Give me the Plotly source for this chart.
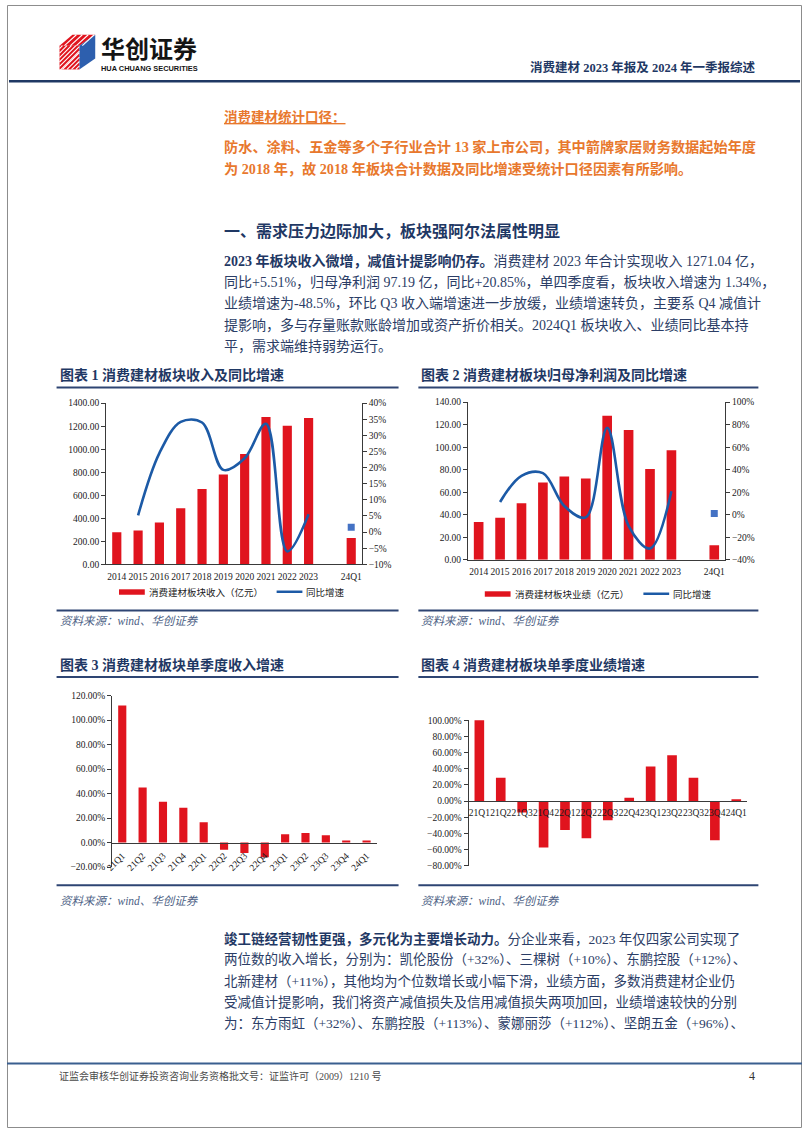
import plotly.graph_objects as go

W, H = 802, 1133


def px(x):
    return x / W


def py(y):
    return 1 - y / H


# ---------------- data ----------------
years = ["2014", "2015", "2016", "2017", "2018", "2019", "2020", "2021", "2022", "2023"]
gap_label = " "
q1_label = "24Q1"
cats_annual = years + [gap_label, q1_label]

revenue = [278, 293, 364, 488, 654, 780, 958, 1280, 1204, 1271.04]
revenue_24q1 = 229
revenue_yoy = [None, 5.2, 24.5, 34.2, 34.0, 19.3, 22.9, 33.6, -6.0, 5.51]
revenue_yoy_24q1 = 1.5

profit = [33.5, 37.3, 50.2, 68.7, 74.0, 72.2, 128.0, 115.3, 80.7, 97.19]
profit_24q1 = 12.9
profit_yoy = [None, 11.3, 34.6, 36.9, 7.7, -2.4, 77.3, -9.9, -30.0, 20.85]
profit_yoy_24q1 = 1.0

quarters = ["21Q1", "21Q2", "21Q3", "21Q4", "22Q1", "22Q2", "22Q3", "22Q4",
            "23Q1", "23Q2", "23Q3", "23Q4", "24Q1"]
q_rev_growth = [111.9, 45.0, 33.2, 28.3, 16.5, -5.9, -8.6, -12.1, 6.7, 7.8, 5.9, 1.34, 1.5]
q_profit_growth = [100.5, 29.0, -14.3, -57.6, -35.9, -46.1, -23.7, 4.1, 42.9, 56.7, 29.0, -48.5, 2.0]

# ---------------- styles ----------------
RED = "#e0141e"
BLUE = "#1c5aa6"
MARK = "#4472c4"
NAVY = "#1f3864"
BODY = "#2b3d66"
ORANGE = "#e8782d"
AXIS = "#3a3a3a"
LINEC = "#2e4573"
CJK = "Noto Sans CJK SC"
MIX = "Liberation Serif, Noto Sans CJK SC"
TICKFONT = dict(family="Liberation Serif", size=9.5, color="#1a1a1a")

fig = go.Figure()

# chart 1
fig.add_trace(go.Bar(x=years + [q1_label], y=revenue + [revenue_24q1], xaxis="x", yaxis="y",
                     marker=dict(color=RED, line=dict(width=0)), width=0.43))
fig.add_trace(go.Scatter(x=years, y=revenue_yoy, xaxis="x", yaxis="y2", mode="lines",
                         line=dict(color=BLUE, width=2.6, shape="spline", smoothing=1.0)))
fig.add_trace(go.Scatter(x=[q1_label], y=[revenue_yoy_24q1], xaxis="x", yaxis="y2", mode="markers",
                         marker=dict(symbol="square", size=7, color=MARK)))
# chart 2
fig.add_trace(go.Bar(x=years + [q1_label], y=profit + [profit_24q1], xaxis="x2", yaxis="y3",
                     marker=dict(color=RED, line=dict(width=0)), width=0.45))
fig.add_trace(go.Scatter(x=years, y=profit_yoy, xaxis="x2", yaxis="y4", mode="lines",
                         line=dict(color=BLUE, width=2.6, shape="spline", smoothing=1.0)))
fig.add_trace(go.Scatter(x=[q1_label], y=[profit_yoy_24q1], xaxis="x2", yaxis="y4", mode="markers",
                         marker=dict(symbol="square", size=7, color=MARK)))
# chart 3
fig.add_trace(go.Bar(x=quarters, y=q_rev_growth, xaxis="x3", yaxis="y5",
                     marker=dict(color=RED, line=dict(width=0)), width=0.4))
# chart 4
fig.add_trace(go.Bar(x=quarters, y=q_profit_growth, xaxis="x4", yaxis="y6",
                     marker=dict(color=RED, line=dict(width=0)), width=0.45))


def yax(dom, rng, dtick, fmt, suffix="", anchor="x", side="left", overlaying=None):
    d = dict(range=rng, dtick=dtick, tick0=rng[0], tickformat=fmt, ticksuffix=suffix,
             showline=True, linecolor=AXIS, linewidth=1, ticks="outside", ticklen=4,
             tickcolor=AXIS, tickfont=TICKFONT, showgrid=False, zeroline=False,
             anchor=anchor, side=side)
    if overlaying:
        d["overlaying"] = overlaying
    else:
        d["domain"] = dom
    return d


def xax(dom, cats, anchor, rng, angle=0, position=None):
    d = dict(domain=dom, type="category", categoryorder="array", categoryarray=cats,
             range=rng, showline=True, linecolor=AXIS, linewidth=1, ticks="outside",
             ticklen=3, tickcolor="rgba(0,0,0,0)", tickangle=angle, tickfont=TICKFONT,
             showgrid=False, zeroline=False, anchor=anchor)
    if position is not None:
        d["position"] = position
    return d


c1y = [py(564.3), py(401.7)]
c2y = [py(559.7), py(400.7)]
c3y = [py(869.7), py(696.7)]
c4y = [py(868.3), py(721.7)]
r3 = [-20, 120]
r4 = [-80, 100]
zero3 = c3y[0] + (0 - r3[0]) / (r3[1] - r3[0]) * (c3y[1] - c3y[0])
zero4 = c4y[0] + (0 - r4[0]) / (r4[1] - r4[0]) * (c4y[1] - c4y[0])

layout_axes = dict(
    xaxis=xax([px(100), px(358)], cats_annual, "y", [-0.5, 11.5]),
    yaxis=yax(c1y, [0, 1400], 200, ".2f", anchor="x"),
    yaxis2=yax(None, [-10, 40], 5, "d", "%", anchor="x", side="right", overlaying="y"),
    xaxis2=xax([px(465), px(724.3)], cats_annual, "y3", [-0.5, 11.5]),
    yaxis3=yax(c2y, [0, 140], 20, ".2f", anchor="x2"),
    yaxis4=yax(None, [-40, 100], 20, "d", "%", anchor="x2", side="right", overlaying="y3"),
    xaxis3=xax([px(106), px(373)], quarters, "free", [-0.5, 12.5], angle=-45, position=zero3),
    yaxis5=yax(c3y, r3, 20, ".2f", "%", anchor="x3"),
    xaxis4=xax([px(465.7), px(746.5)], quarters, "free", [-0.5, 12.5], angle=0, position=zero4),
    yaxis6=yax(c4y, r4, 20, ".2f", "%", anchor="x4"),
)

# ---------------- page decoration ----------------
shapes = []
annotations = []


def sline(x0, y0, x1, y1, color, width):
    shapes.append(dict(type="line", xref="paper", yref="paper", x0=px(x0), y0=py(y0),
                       x1=px(x1), y1=py(y1), line=dict(color=color, width=width)))


def srect(x0, y0, x1, y1, fill, lc=None, lw=0):
    shapes.append(dict(type="rect", xref="paper", yref="paper", x0=px(x0), y0=py(y0),
                       x1=px(x1), y1=py(y1), fillcolor=fill,
                       line=dict(color=lc or fill, width=lw)))


def spath(points, fill):
    p = "M " + " L ".join(f"{px(a):.5f},{py(b):.5f}" for a, b in points) + " Z"
    shapes.append(dict(type="path", xref="paper", yref="paper", path=p, fillcolor=fill,
                       line=dict(width=0)))


def note(x, y, text, size, color, family=MIX, xanchor="left"):
    annotations.append(dict(xref="paper", yref="paper", x=px(x), y=py(y), text=text,
                            showarrow=False, xanchor=xanchor, yanchor="middle", align="left",
                            font=dict(family=family, size=size, color=color)))


# page frame
shapes.append(dict(type="rect", xref="paper", yref="paper", x0=px(0.5), y0=py(0.5),
                   x1=px(801.5), y1=py(1132.5), line=dict(color="#8c8c8c", width=1)))

# logo
spath([(53, 41), (66, 30), (89, 30), (73, 41)], RED)      # top face
spath([(53, 41), (73, 41), (73, 65), (53, 65)], RED)      # front face
spath([(73, 41), (89, 30), (89, 54), (73, 65)], "#2d5fae")  # side face
for k in range(6):
    y0 = 44 + k * 4.5
    x1 = min(73, 53 + (y0 - 41))
    sline(53, y0, x1, y0 - (x1 - 53), "white", 1.1)
for k in range(4):
    x0 = 56 + k * 4.5
    sline(x0, 65, 73, 65 - (73 - x0), "white", 1.1)
for k in range(4):
    xa = 58 + k * 6
    sline(xa, 41, xa + 12, 30, "white", 1.1)
note(93, 43, "<b>华创证券</b>", 24, "#141414", family=CJK)
note(93, 64.5, "<b>HUA CHUANG SECURITIES</b>", 7.4, "#141414", family="Liberation Sans")
note(758, 63, "<b>消费建材 2023 年报及 2024 年一季报综述</b>", 12.5, NAVY, xanchor="right")
sline(2, 77, 800, 77, NAVY, 2.5)

# orange note block
note(217, 113, "<b><u>消费建材统计口径：</u></b>", 13.5, ORANGE)
note(217, 143, "<b>防水、涂料、五金等多个子行业合计 13 家上市公司，其中箭牌家居财务数据起始年度</b>", 14.2, ORANGE)
note(217, 165, "<b>为 2018 年，故 2018 年板块合计数据及同比增速受统计口径因素有所影响。</b>", 14.2, ORANGE)

# heading and paragraph
note(217, 228, "<b>一、需求压力边际加大，板块强阿尔法属性明显</b>", 16, NAVY)
para1 = [
    f'<b><span style="color:{NAVY}">2023 年板块收入微增，减值计提影响仍存。</span></b>消费建材 2023 年合计实现收入 1271.04 亿，',
    "同比+5.51%，归母净利润 97.19 亿，同比+20.85%，单四季度看，板块收入增速为 1.34%，",
    "业绩增速为-48.5%，环比 Q3 收入端增速进一步放缓，业绩增速转负，主要系 Q4 减值计",
    "提影响，多与存量账款账龄增加或资产折价相关。2024Q1 板块收入、业绩同比基本持",
    "平，需求端维持弱势运行。",
]
for i, t in enumerate(para1):
    note(217, 258 + i * 21.6, t, 14, BODY)

# chart titles / rules / sources
for (x0, x1, num, title) in [(50, 395, "1", "消费建材板块收入及同比增速"),
                             (415, 758, "2", "消费建材板块归母净利润及同比增速")]:
    note(x0 + 1, 373, f"<b>图表 {num} {title}</b>", 14, NAVY)
    sline(x0, 386, x1, 386, LINEC, 2)
    sline(x0, 611, x1, 611, LINEC, 2)
    note(x0 + 1, 621, "<i>资料来源：wind、华创证券</i>", 11.5, "#4d5f85")
for (x0, x1, num, title) in [(50, 395, "3", "消费建材板块单季度收入增速"),
                             (415, 758, "4", "消费建材板块单季度业绩增速")]:
    note(x0 + 1, 666, f"<b>图表 {num} {title}</b>", 14, NAVY)
    sline(x0, 678, x1, 678, LINEC, 2)
    sline(x0, 888, x1, 888, LINEC, 2)
    note(x0 + 1, 904, "<i>资料来源：wind、华创证券</i>", 11.5, "#4d5f85")

# manual legends for charts 1 and 2
srect(113, 589.5, 139, 595, RED)
note(141, 592, "消费建材板块收入（亿元）", 9.5, "#222", family=CJK)
sline(272, 592, 298, 592, BLUE, 2.5)
note(300, 592, "同比增速", 9.5, "#222", family=CJK)
srect(482, 591.5, 508, 597, RED)
note(510, 594, "消费建材板块业绩（亿元）", 9.5, "#222", family=CJK)
sline(642, 594, 668, 594, BLUE, 2.5)
note(670, 594, "同比增速", 9.5, "#222", family=CJK)

# second paragraph
para2 = [
    f'<b><span style="color:{NAVY}">竣工链经营韧性更强，多元化为主要增长动力。</span></b>分企业来看，2023 年仅四家公司实现了',
    "两位数的收入增长，分别为：凯伦股份（+32%）、三棵树（+10%）、东鹏控股（+12%）、",
    "北新建材（+11%），其他均为个位数增长或小幅下滑，业绩方面，多数消费建材企业仍",
    "受减值计提影响，我们将资产减值损失及信用减值损失两项加回，业绩增速较快的分别",
    "为：东方雨虹（+32%）、东鹏控股（+113%）、蒙娜丽莎（+112%）、坚朗五金（+96%）、",
]
for i, t in enumerate(para2):
    note(217, 942 + i * 21.5, t, 13.5, BODY)

# footer
sline(0, 1068, 802, 1068, "#3a5f8f", 2)
note(50, 1081, "证监会审核华创证券投资咨询业务资格批文号：证监许可（2009）1210 号", 10, "#4a4a4a")
note(757, 1081, "4", 12, "#333", family="Liberation Serif", xanchor="right")

fig.update_layout(
    width=W, height=H, margin=dict(l=0, r=0, t=0, b=0, pad=0),
    paper_bgcolor="white", plot_bgcolor="white", showlegend=False,
    shapes=shapes, annotations=annotations, **layout_axes,
)

fig.write_html("out.html")
